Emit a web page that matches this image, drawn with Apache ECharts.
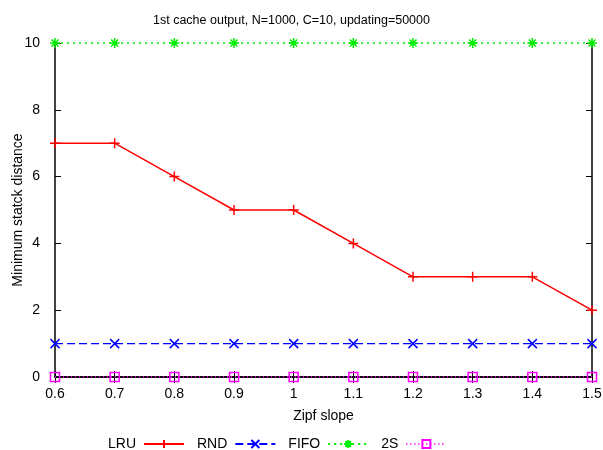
<!DOCTYPE html>
<html><head><meta charset="utf-8">
<script src="https://cdn.jsdelivr.net/npm/echarts@6/dist/echarts.min.js"></script>
<style>html,body{margin:0;padding:0;background:#fff}#c{width:603px;height:450px}</style>
</head><body><div id="c"></div>
<script>
const categories = ['0.6','0.7','0.8','0.9','1','1.1','1.2','1.3','1.4','1.5'];
const lru  = [7,7,6,5,5,4,3,3,3,2];
const rnd  = [1,1,1,1,1,1,1,1,1,1];
const fifo = [10,10,10,10,10,10,10,10,10,10];
const s2   = [0,0,0,0,0,0,0,0,0,0];
const yTicks = [0,2,4,6,8,10];

const plus = 'path://M5,0 L5,10 M0,5 L10,5';
const cross = 'path://M0,0 L10,10 M10,0 L0,10';
const star = 'path://M5,0 L5,10 M0,5 L10,5 M1.5,1.5 L8.5,8.5 M8.5,1.5 L1.5,8.5';
const square = 'path://M0,0 L10,0 L10,10 L0,10 Z';
const font = 'Liberation Sans, Arial, Helvetica, sans-serif';

const chart = echarts.init(document.getElementById('c'), null, {renderer:'canvas'});
function mk(name, data, color, type, symbol, size){
  return {name, type:'line', data, symbol, symbolSize:size, showSymbol:true,
    lineStyle:{color, width: name==='LRU'?1.5:1.3, type},
    itemStyle:{color: symbol===square?'rgba(0,0,0,0)':color, borderColor:color, borderWidth:1.5},
    emphasis:{disabled:true}, animation:false, clip:false, z: 3};
}
chart.setOption({
  animation:false,
  title:{text:'1st cache output, N=1000, C=10, updating=50000', left:148, top:9,
    textStyle:{fontFamily:font, fontSize:12.5, fontWeight:'normal', color:'#000'}},
  grid:{left:55, right:11, top:43, bottom:73, outerBoundsMode:'none', containLabel:false},
  legend:{top:432, left:103, align:'right', itemWidth:40, itemHeight:10, itemGap:12,
    textStyle:{fontFamily:font, fontSize:14, color:'#000', padding:[0,3,0,0]},
    data:['LRU','RND','FIFO','2S']},
  xAxis:[{type:'category', data:categories, boundaryGap:false,
      name:'Zipf slope', nameLocation:'middle', nameGap:32, nameMoveOverlap:false,
      nameTextStyle:{fontFamily:font, fontSize:14, color:'#000'},
      axisLine:{lineStyle:{color:'#000', width:1.5}},
      axisTick:{inside:true, length:6, lineStyle:{color:'#000'}, alignWithLabel:true},
      axisLabel:{fontFamily:font, fontSize:14, color:'#000', margin:10},
      splitLine:{show:false}},
    {type:'category', data:categories, boundaryGap:false, position:'top',
      axisLine:{lineStyle:{color:'#000', width:1.5}},
      axisTick:{inside:true, length:6, lineStyle:{color:'#000'}},
      axisLabel:{show:false}, splitLine:{show:false}}],
  yAxis:[{type:'value', min:0, max:10, interval:2,
      name:'Minimum statck distance', nameLocation:'middle', nameGap:30, nameMoveOverlap:false,
      nameTextStyle:{fontFamily:font, fontSize:14, color:'#000'},
      axisLine:{show:true, lineStyle:{color:'#000', width:1.5}},
      axisTick:{show:true, inside:true, length:6, lineStyle:{color:'#000'}},
      axisLabel:{fontFamily:font, fontSize:14, color:'#000', margin:15,
        formatter: v => yTicks.includes(v) ? String(v) : ''},
      splitLine:{show:false}},
    {type:'value', min:0, max:10, interval:2, position:'right',
      axisLine:{show:true, lineStyle:{color:'#000', width:1.5}},
      axisTick:{show:true, inside:true, length:6, lineStyle:{color:'#000'}},
      axisLabel:{show:false}, splitLine:{show:false}}],
  series:[
    mk('LRU', lru, '#ff0000', 'solid', plus, 10),
    mk('RND', rnd, '#0000ff', [8,4], cross, 9),
    mk('FIFO', fifo, '#00ee00', [2,4], star, 10),
    mk('2S', s2, '#ff00ff', [1,3], square, 9)
  ]
});
</script></body></html>
